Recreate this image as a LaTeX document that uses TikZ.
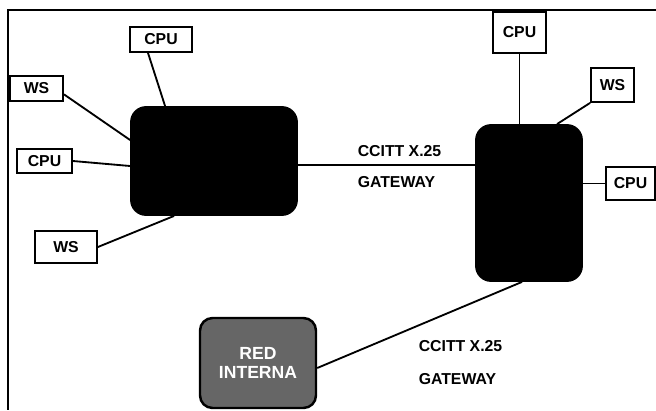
\documentclass[tikz,border=0pt]{standalone}
\usepackage{fontspec}
\setmainfont{Liberation Sans}
\usetikzlibrary{calc}

\begin{document}
\begin{tikzpicture}[x=0.02cm,y=-0.02cm,font=\fontsize{9}{10}\selectfont\bfseries,
 unit/.style={draw,fill=white,inner sep=0pt},
 net/.style={draw,fill=black,rounded corners=0.3cm,inner sep=0pt},
 lan/.style={draw,fill=black!60,rounded corners=0.25cm,inner sep=0pt,align=center,text=white,line width=1.4pt,font=\fontsize{10}{11}\selectfont\bfseries},
 every path/.style={line width=1.05pt}]
\useasboundingbox (0,0) rectangle (656,410);
% networks
\node[net,minimum width=3.32cm,minimum height=2.16cm] (netA) at (214,161) {};
\node[net,minimum width=2.12cm,minimum height=3.12cm] (netB) at (529,203) {};
\node[lan,minimum width=2.32cm,minimum height=1.80cm] (red) at (258,363) {RED\\INTERNA};
% hosts
\node[unit,minimum width=1.24cm,minimum height=0.50cm] (cpuA) at (161,39.5) {CPU};
\node[unit,minimum width=1.06cm,minimum height=0.50cm] (wsA) at (36.5,88.5) {WS};
\node[unit,minimum width=1.10cm,minimum height=0.48cm] (cpuB) at (44.5,161) {CPU};
\node[unit,minimum width=1.24cm,minimum height=0.64cm] (wsB) at (66,247) {WS};
\node[unit,minimum width=1.06cm,minimum height=0.82cm] (cpuC) at (519.5,32.5) {CPU};
\node[unit,minimum width=0.86cm,minimum height=0.68cm] (wsC) at (612.5,85) {WS};
\node[unit,minimum width=0.98cm,minimum height=0.66cm] (cpuD) at (630.5,183.5) {CPU};
% gateway labels
\node[anchor=west] (gwA1) at (351,151) {CCITT X.25};
\node[anchor=west] (gwA2) at (351,182) {GATEWAY};
\node[anchor=west] (gwB1) at (412,346.5) {CCITT X.25};
\node[anchor=west] (gwB2) at (412,379) {GATEWAY};
% links
\draw ($(cpuA.south)+(-13,0)$) -- ($(netA.north west)+(35,0)$);
\draw (wsA.-12) -- ($(netA.west)+(0,-21)$);
\draw (cpuB.east) -- ($(netA.west)+(0,5)$);
\draw (wsB.east) -- ($(netA.south west)+(44,0)$);
\coordinate (gwA) at ($(netA.east)+(0,4)$);
\draw (gwA) -- (gwA -| netB.west);
\draw (cpuC.south) -- (cpuC.south |- netB.north);
\draw (wsC.south west) -- ($(netB.north)+(28,0)$);
\draw (cpuD.west) -- (cpuD.west -| netB.east);
\draw ($(red.east)+(0,5)$) -- ($(netB.south)+(-7,0)$);
% frame
\draw[line width=1.5pt] (656,10) -- (8,10) -- (8,410);
\end{tikzpicture}
\end{document}
